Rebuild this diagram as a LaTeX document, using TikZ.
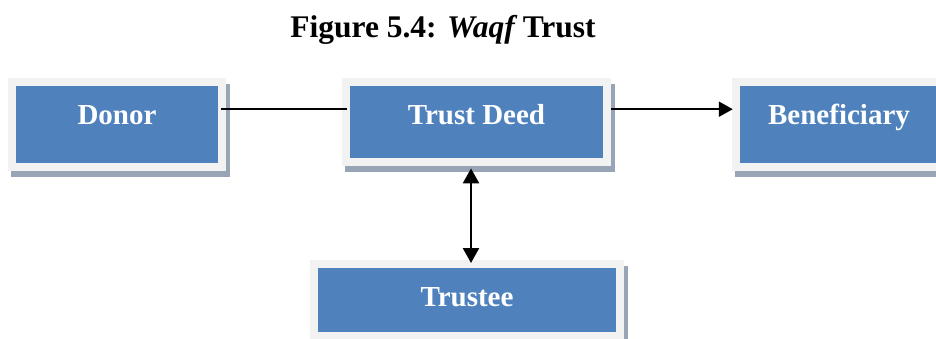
\documentclass[tikz,border=0pt]{standalone}
\usepackage{fontspec}
\setmainfont{Liberation Serif}
\usetikzlibrary{calc,backgrounds,arrows.meta}
\definecolor{boxblue}{HTML}{4F81BD}
\definecolor{framegray}{HTML}{F2F2F2}
\definecolor{shadowgray}{HTML}{98A5B7}
\tikzset{
  bluebox/.style={fill=boxblue, text=white, inner xsep=0pt, inner ysep=0pt,
    anchor=north, font=\fontsize{29bp}{34bp}\selectfont\bfseries, text height=38bp},
  conn/.style={line width=2.1bp, draw=black},
  tip/.style={-{Triangle[length=14bp,width=15bp]}},
}
\newcommand{\myboxframe}[1]{%
  \fill[shadowgray] ($(#1.south west)+(-8+3.5,8+5.5)$) rectangle ($(#1.north east)+(8+3.5,-8+5.5)$);
  \fill[framegray] ($(#1.south west)+(-8,8)$) rectangle ($(#1.north east)+(8,-8)$);
}
\begin{document}
\begin{tikzpicture}[x=1bp,y=-1bp]
\useasboundingbox (0,0) rectangle (936,338);
\clip (0,0) rectangle (936,338);
\node[anchor=base, font=\fontsize{31.5bp}{36bp}\selectfont\bfseries] (title) at (443,37) {Figure 5.4: {\itshape Waqf} Trust};
\node[bluebox, minimum width=202bp, text depth=39bp] (d) at (117,86) {Donor};
\node[bluebox, minimum width=253bp, text depth=34bp] (t) at (476.5,86) {Trust Deed};
\node[bluebox, minimum width=198bp, text depth=39bp] (b) at (839,86) {Beneficiary};
\node[bluebox, minimum width=298bp, text depth=26bp] (tr) at (467,268) {Trustee};
\begin{scope}[on background layer]
  \fill[white] (0,0) rectangle (936,338);
  \myboxframe{d}
  \myboxframe{t}
  \myboxframe{b}
  \myboxframe{tr}
\end{scope}
\coordinate (a1) at ($(d.east)+(3,-15.5)$);
\draw[conn, shorten >=3bp] (a1) -- (a1 -| t.west);
\coordinate (a2) at ($(t.east)+(8,-13)$);
\draw[conn, tip, shorten >=7bp] (a2) -- (a2 -| b.west);
\coordinate (v1) at ($(t.south)+(-5.5,10)$);
\draw[conn, line width=2.4bp, {Triangle[length=15bp,width=16bp]}-{Triangle[length=15bp,width=16bp]}, shorten >=5bp] (v1) -- (v1 |- tr.north);
\end{tikzpicture}
\end{document}
